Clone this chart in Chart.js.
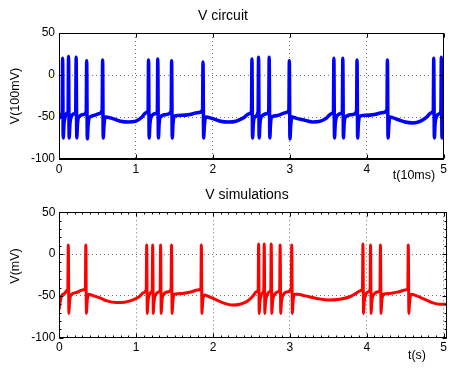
<!DOCTYPE html>
<html>
<head>
<meta charset="utf-8">
<script src="https://cdn.jsdelivr.net/npm/chart.js@4.4.0/dist/chart.umd.min.js"></script>
<style>
  html, body { margin: 0; padding: 0; background: #fff; }
  #wrap { position: relative; width: 450px; height: 369px; }
  canvas { position: absolute; left: 0; }
</style>
</head>
<body>
<div id="wrap">
  <canvas id="graficoCircuito" width="450" height="185" style="top:0"></canvas>
  <canvas id="graficoSimulacao" width="450" height="184" style="top:185px"></canvas>
</div>
<script>
// DADOS -------------------------------------
const xTicks = [0, 1, 2, 3, 4, 5];
const yTicks = [-100, -50, 0, 50];

// V circuit (azul), t em unidades de 10ms
const circuitoT = [
  0, 0.03, 0.041, 0.047, 0.055, 0.065, 0.08, 0.11, 0.118, 0.124, 0.132, 0.142, 0.157,
  0.2, 0.217, 0.223, 0.231, 0.241, 0.256, 0.32, 0.354, 0.36, 0.368, 0.378, 0.393,
  0.46, 0.52, 0.561, 0.567, 0.575, 0.585, 0.6, 0.7, 0.8, 0.9, 1.0, 1.08, 1.13,
  1.158, 1.164, 1.172, 1.182, 1.197, 1.25, 1.278, 1.284, 1.292, 1.302, 1.317,
  1.4, 1.458, 1.464, 1.472, 1.482, 1.497, 1.6, 1.7, 1.8, 1.866, 1.872, 1.88, 1.89, 1.905,
  2.0, 2.1, 2.2, 2.3, 2.4, 2.47, 2.502, 2.508, 2.516, 2.526, 2.541, 2.588, 2.594, 2.602,
  2.612, 2.627, 2.7, 2.726, 2.732, 2.74, 2.75, 2.765, 2.85, 2.94, 2.988, 2.994, 3.002,
  3.012, 3.027, 3.1, 3.2, 3.3, 3.4, 3.48, 3.54, 3.567, 3.573, 3.581, 3.591, 3.606,
  3.66, 3.683, 3.689, 3.697, 3.707, 3.722, 3.82, 3.868, 3.874, 3.882, 3.892, 3.907,
  4.0, 4.1, 4.2, 4.263, 4.269, 4.277, 4.287, 4.302, 4.4, 4.5, 4.6, 4.7, 4.78, 4.84,
  4.865, 4.871, 4.879, 4.889, 4.904, 4.95, 4.964, 4.97, 4.978, 4.988, 5.0
];
const circuitoV = [
  -52, -47, -44, 20, -75, -58, -50, -45, -44, 22, -75, -58, -50,
  -46, -44, 21, -75, -58, -50, -47, -43, 17, -76, -60, -51,
  -48, -46, -42, 18, -75, -60, -50, -52, -55, -56, -55, -50, -45,
  -42, 18, -75, -58, -50, -46, -43, 19, -75, -58, -50,
  -47, -43, 17, -75, -58, -49, -48, -47, -45, -42, 15.5, -75, -60, -50,
  -52, -55, -56, -55, -51, -46, -43, 19, -75, -58, -50, -44, 21, -75,
  -58, -50, -46, -43, 21, -75, -58, -50, -48, -45, -42, 17, -76,
  -60, -50, -52, -54, -56, -55, -51, -46, -43, 20, -75, -58, -50,
  -46, -43, 20, -75, -58, -50, -47, -43, 18, -75, -58, -49,
  -48, -47, -45, -42, 18, -75, -60, -50, -53, -56, -57, -55, -50, -45,
  -42, 20, -75, -58, -50, -46, -43, 21, -75, -58, -50
];

// V simulations (vermelho), t em segundos
const simulacaoT = [
  0, 0.01, 0.03, 0.07, 0.105, 0.111, 0.117, 0.125, 0.133, 0.15, 0.22, 0.3, 0.339,
  0.345, 0.353, 0.361, 0.38, 0.42, 0.52, 0.62, 0.74, 0.85, 0.95, 1.04, 1.1, 1.131,
  1.137, 1.145, 1.153, 1.17, 1.2, 1.209, 1.215, 1.223, 1.231, 1.25, 1.3, 1.312,
  1.318, 1.326, 1.334, 1.35, 1.42, 1.454, 1.46, 1.468, 1.476, 1.495, 1.6, 1.72, 1.8,
  1.842, 1.848, 1.856, 1.864, 1.885, 1.95, 2.05, 2.15, 2.25, 2.35, 2.45, 2.52, 2.565,
  2.587, 2.593, 2.601, 2.609, 2.625, 2.645, 2.66, 2.666, 2.674, 2.682, 2.7, 2.735,
  2.751, 2.757, 2.765, 2.773, 2.79, 2.85, 2.867, 2.873, 2.881, 2.889, 2.905, 2.97,
  3.018, 3.024, 3.032, 3.04, 3.06, 3.1, 3.2, 3.35, 3.5, 3.65, 3.78, 3.86, 3.91,
  3.944, 3.95, 3.958, 3.966, 3.985, 4.02, 4.043, 4.049, 4.057, 4.065, 4.085, 4.15,
  4.172, 4.178, 4.186, 4.194, 4.215, 4.3, 4.42, 4.5, 4.534, 4.54, 4.548, 4.556, 4.58,
  4.65, 4.75, 4.85, 4.95, 5.04
];
const simulacaoV = [
  -66, -58, -50, -47, -43, -41, 11, -71, -58, -49, -46, -43, -41,
  11, -71, -58, -48, -49, -52, -56, -58, -57.5, -55, -51, -46, -42,
  11, -71, -58, -49, -45, -42, 11, -71, -58, -49, -45, -42,
  11, -71, -58, -49, -45, -42, 11, -71, -58, -48, -47, -45, -43,
  -41, 11, -71, -58, -49, -51, -55, -59, -61, -60, -56, -50, -45,
  -42, 12, -71, -58, -50, -46, -42, 12, -71, -58, -50, -45,
  -42, 12, -71, -58, -50, -45, -42, 11, -71, -58, -50, -45,
  -41, 11, -71, -58, -48, -48, -50, -53, -55, -54, -51, -47, -44,
  -41, 12, -71, -58, -49, -45, -42, 11, -71, -58, -49, -45,
  -42, 11, -71, -58, -48, -47, -45, -43, -41, 11, -71, -58, -48,
  -50, -54, -58, -60, -60
];

// ESTILO ------------------------------------
const FONTE = '"Liberation Sans", Arial, Helvetica, sans-serif';
Chart.defaults.font.family = FONTE;
Chart.defaults.color = '#000';

const moldura = {
  id: 'moldura',
  afterDraw(chart, args, o) {
    const { ctx, chartArea: a } = chart;
    const xs = chart.scales.x, ys = chart.scales.y;
    const L = Math.round(a.left) + 0.5, R = Math.round(a.right) - 0.5;
    const T = Math.round(a.top) + 0.5, B = Math.round(a.bottom) - 0.5;
    ctx.save();
    ctx.strokeStyle = '#000';
    ctx.lineWidth = 1;
    ctx.strokeRect(L, T, R - L, B - T);

    ctx.beginPath();
    xTicks.forEach(v => {
      const px = Math.round(xs.getPixelForValue(v)) + 0.5;
      ctx.moveTo(px, B); ctx.lineTo(px, B - 4);
      ctx.moveTo(px, T); ctx.lineTo(px, T + 4);
    });
    yTicks.forEach(v => {
      const py = Math.round(ys.getPixelForValue(v)) + 0.5;
      ctx.moveTo(L, py); ctx.lineTo(L + 4, py);
      ctx.moveTo(R, py); ctx.lineTo(R - 4, py);
    });
    ctx.stroke();

    if (o.menores) {
      ctx.beginPath();
      for (let i = 0; i <= 50; i++) {
        const px = Math.round(xs.getPixelForValue(i / 10)) + 0.5;
        ctx.moveTo(px, B); ctx.lineTo(px, B - 2);
        ctx.moveTo(px, T); ctx.lineTo(px, T + 2);
      }
      for (let v = -100; v <= 50; v += 10) {
        const py = Math.round(ys.getPixelForValue(v)) + 0.5;
        ctx.moveTo(L, py); ctx.lineTo(L + 2, py);
        ctx.moveTo(R, py); ctx.lineTo(R - 2, py);
      }
      ctx.stroke();
    }

    ctx.fillStyle = '#000';
    ctx.textAlign = 'center';
    ctx.textBaseline = 'middle';
    ctx.font = '14px ' + FONTE;
    ctx.fillText(o.titulo, o.tituloX, o.tituloY);
    ctx.font = '12.5px ' + FONTE;
    ctx.fillText(o.xTitulo, o.xTituloX, o.xTituloY);
    ctx.translate(o.yTituloX, o.yTituloY);
    ctx.rotate(-Math.PI / 2);
    ctx.fillText(o.yTitulo, 0, 0);
    ctx.restore();
  }
};

function montarOpcoes(cfg) {
  return {
    responsive: false,
    animation: false,
    events: [],
    layout: { padding: { top: cfg.topo, right: cfg.direita, left: 0, bottom: 0 } },
    plugins: {
      legend: { display: false },
      tooltip: { enabled: false },
      moldura: cfg.textos
    },
    scales: {
      x: {
        type: 'linear',
        min: 0,
        max: cfg.xMax,
        afterFit: (s) => { s.height = cfg.alturaX; },
        afterBuildTicks: (s) => { s.ticks = xTicks.map(v => ({ value: v })); },
        ticks: { padding: 3, maxRotation: 0, color: '#000', font: { size: 12 } },
        grid: { color: 'rgba(0, 0, 0, 0.55)', drawTicks: false },
        border: { color: '#000', dash: [1, 3] }
      },
      y: {
        min: -100,
        max: 50,
        afterFit: (s) => { s.width = cfg.larguraY; },
        afterBuildTicks: (s) => { s.ticks = yTicks.map(v => ({ value: v })); },
        ticks: { padding: 4, color: '#000', font: { size: 12 } },
        grid: { color: 'rgba(0, 0, 0, 0.55)', drawTicks: false },
        border: { color: '#000', dash: [1, 3] }
      }
    }
  };
}

function serie(ts, vs) {
  return ts.map((t, i) => ({ x: t, y: vs[i] }));
}

document.addEventListener('DOMContentLoaded', () => {
  new Chart(document.getElementById('graficoCircuito').getContext('2d'), {
    type: 'line',
    data: {
      datasets: [{
        data: serie(circuitoT, circuitoV),
        borderColor: '#0000ff',
        borderWidth: 3.5,
        pointRadius: 0,
        cubicInterpolationMode: 'monotone'
      }]
    },
    options: montarOpcoes({
      topo: 33, direita: 2.5, alturaX: 26, larguraY: 59, xMax: 5,
      textos: {
        titulo: 'V circuit', tituloX: 223, tituloY: 16,
        xTitulo: 't(10ms)', xTituloX: 414, xTituloY: 176,
        yTitulo: 'V(100mV)', yTituloX: 16, yTituloY: 96,
        menores: false
      }
    }),
    plugins: [moldura]
  });

  new Chart(document.getElementById('graficoSimulacao').getContext('2d'), {
    type: 'line',
    data: {
      datasets: [{
        data: serie(simulacaoT, simulacaoV),
        borderColor: '#ff0000',
        borderWidth: 3,
        pointRadius: 0,
        cubicInterpolationMode: 'monotone'
      }]
    },
    options: montarOpcoes({
      topo: 27.3, direita: 2, alturaX: 31.3, larguraY: 59.3, xMax: 5.04,
      textos: {
        titulo: 'V simulations', tituloX: 247, tituloY: 10,
        xTitulo: 't(s)', xTituloX: 417, xTituloY: 171,
        yTitulo: 'V(mV)', yTituloX: 16, yTituloY: 81,
        menores: true
      }
    }),
    plugins: [moldura]
  });
});
</script>
</body>
</html>
